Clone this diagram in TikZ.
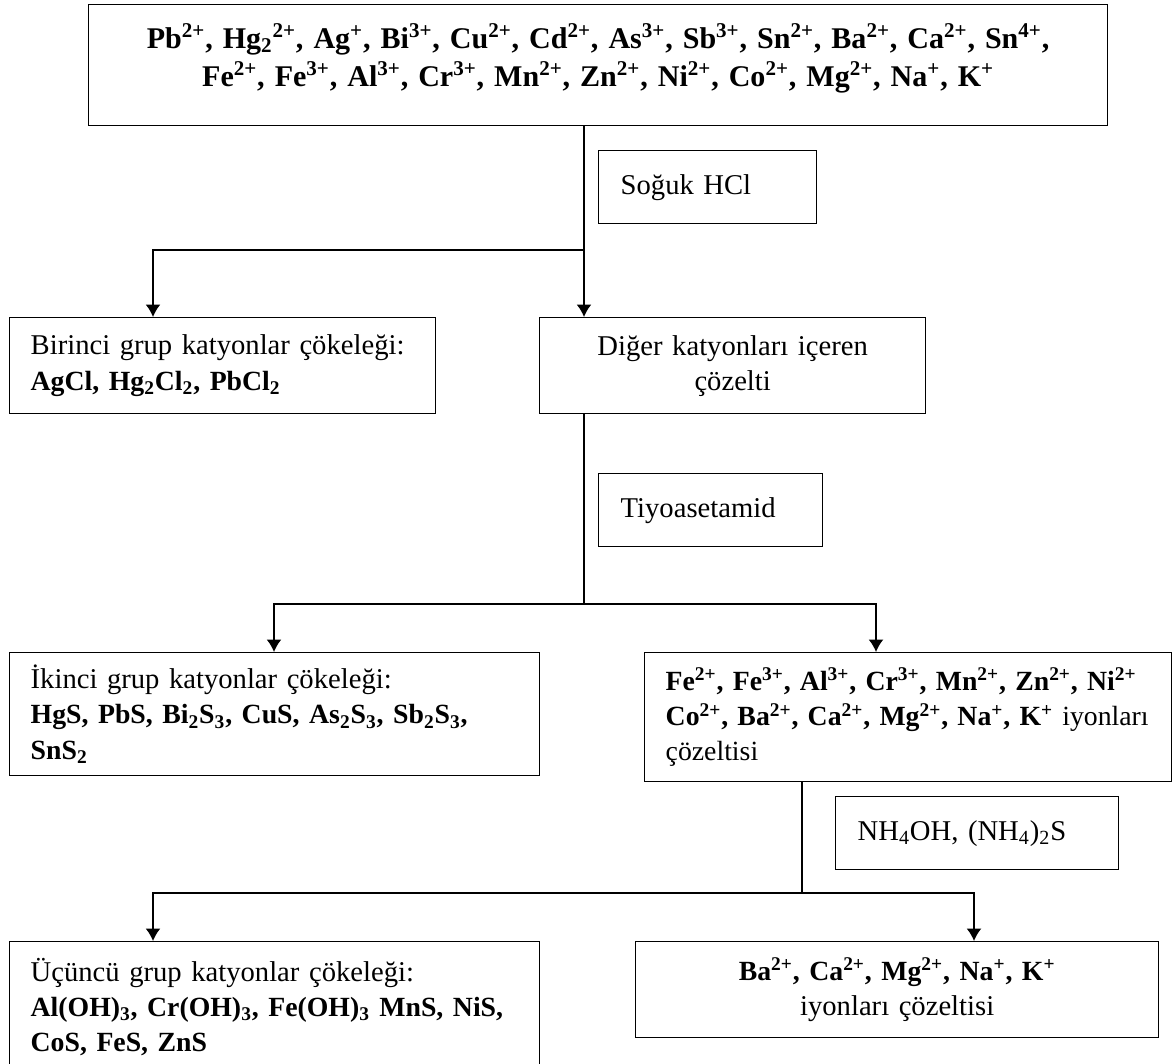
\documentclass[tikz,border=0pt]{standalone}
\usepackage{fontspec}
\setmainfont{Liberation Serif}
\usetikzlibrary{arrows.meta}
\tikzset{>={Latex[length=2.5mm,width=3mm]}}
\tikzset{
  box/.style = {draw, line width=0.8pt, anchor=north west, inner xsep=0.42cm, inner ysep=0pt, align=left},
  conn/.style = {line width=0.9pt},
  stem/.style = {line width=0.6pt},
  every node/.style = {font=\fontsize{16.3}{20}\selectfont}
}
\newcommand{\kat}[2]{#1\textsuperscript{#2}}
\newcommand{\dn}[1]{\textsubscript{#1}}
\newcommand{\bl}[1]{{\fontsize{15.8}{20}\selectfont\bfseries #1}}

\begin{document}
\begin{tikzpicture}[x=0.02cm,y=-0.02cm]
  \useasboundingbox (0,0) rectangle (1173,1064);
  \clip (0,0) rectangle (1173,1064);
  % all cations
  \node (ions) at (88,4) [box, align=center, text width=19.54cm, minimum height=2.42cm,
    font=\fontsize{17.1}{21.5}\selectfont\bfseries] {%
    \kat{Pb}{2+}, Hg\dn{2}\textsuperscript{2+}, \kat{Ag}{+}, \kat{Bi}{3+}, \kat{Cu}{2+}, \kat{Cd}{2+}, \kat{As}{3+}, \kat{Sb}{3+}, \kat{Sn}{2+}, \kat{Ba}{2+}, \kat{Ca}{2+}, \kat{Sn}{4+},\\
    \kat{Fe}{2+}, \kat{Fe}{3+}, \kat{Al}{3+}, \kat{Cr}{3+}, \kat{Mn}{2+}, \kat{Zn}{2+}, \kat{Ni}{2+}, \kat{Co}{2+}, \kat{Mg}{2+}, \kat{Na}{+}, \kat{K}{+}\rule[-0.42cm]{0pt}{0.42cm}};
  % reagents
  \node (hcl) at (598,150) [box, inner xsep=0.44cm, text width=3.48cm, minimum height=1.46cm] {Soğuk HCl};
  \node (tioa) at (598,473) [box, inner xsep=0.44cm, text width=3.6cm, minimum height=1.46cm] {Tiyoasetamid};
  \node (nh4) at (835,796) [box, inner xsep=0.44cm, text width=4.78cm, minimum height=1.46cm] {NH\dn{4}OH, (NH\dn{4})\dn{2}S};
  % first group
  \node (grp1) at (9,317) [box, text width=7.68cm, minimum height=1.92cm] {\makebox[7.6cm][s]{Birinci grup katyonlar çökeleği:}\\
    \bl{AgCl, Hg\dn{2}Cl\dn{2}, PbCl\dn{2}}};
  \node (rest1) at (539,317) [box, align=center, text width=6.88cm, minimum height=1.92cm] {Diğer katyonları içeren\\ çözelti};
  % second group
  \node (grp2) at (9,652) [box, text width=9.76cm, minimum height=2.46cm] {İkinci grup katyonlar çökeleği:\\
    \bl{HgS, PbS, Bi\dn{2}S\dn{3}, CuS, As\dn{2}S\dn{3}, Sb\dn{2}S\dn{3},}\\ \bl{SnS\dn{2}}};
  \node (rest2) at (644,652) [box, text width=9.7cm, minimum height=2.58cm, font=\fontsize{15.8}{20}\selectfont] {%
    \bl{\makebox[9.64cm][s]{\kat{Fe}{2+}, \kat{Fe}{3+}, \kat{Al}{3+}, \kat{Cr}{3+}, \kat{Mn}{2+}, \kat{Zn}{2+}, \kat{Ni}{2+}}}\\
    \mbox{\bl{\kat{Co}{2+}, \kat{Ba}{2+}, \kat{Ca}{2+}, \kat{Mg}{2+}, \kat{Na}{+}, \kat{K}{+}} iyonları}\\ çözeltisi};
  % third group
  \node (grp3) at (9,941) [box, text width=9.76cm, minimum height=2.6cm] {Üçüncü grup katyonlar çökeleği:\\
    \bl{Al(OH)\dn{3}, Cr(OH)\dn{3}, Fe(OH)\dn{3} MnS, NiS,}\\ \bl{CoS, FeS, ZnS}};
  \node (rest3) at (635,941) [box, align=center, text width=9.62cm, minimum height=1.92cm] {\bl{\kat{Ba}{2+}, \kat{Ca}{2+}, \kat{Mg}{2+}, \kat{Na}{+}, \kat{K}{+}}\\ iyonları çözeltisi};
  % branch points
  \coordinate (j1) at (584,250);
  \coordinate (k1) at (153,250);
  \coordinate (j2) at (584,604);
  \coordinate (k2) at (274,604);
  \coordinate (m2) at (876,604);
  \coordinate (j3) at (802,893);
  \coordinate (k3) at (153,893);
  \coordinate (m3) at (974,893);
  % connectors
  \draw[conn] (ions.south -| j1) -- (j1);
  \draw[conn,->] (j1) -- (j1 |- rest1.north);
  \draw[conn,->] (j1) -- (k1) -- (k1 |- grp1.north);
  \draw[stem] (rest1.south -| j2) -- (j2);
  \draw[conn,->] (j2) -- (k2) -- (k2 |- grp2.north);
  \draw[conn,->] (j2) -- (m2) -- (m2 |- rest2.north);
  \draw[stem] (rest2.south -| j3) -- (j3);
  \draw[conn,->] (j3) -- (k3) -- (k3 |- grp3.north);
  \draw[conn,->] (j3) -- (m3) -- (m3 |- rest3.north);
\end{tikzpicture}
\end{document}
